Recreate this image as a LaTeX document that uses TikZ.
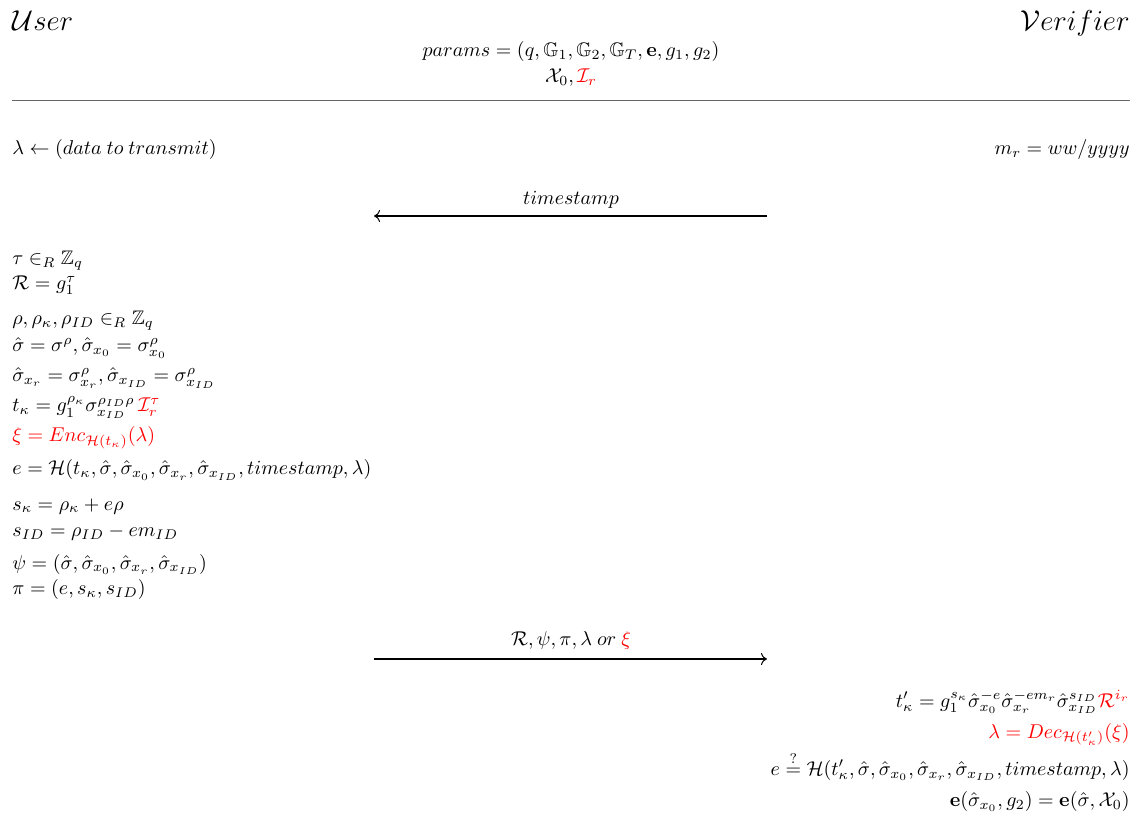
\documentclass[tikz,border=0pt]{standalone}
\usepackage{amsmath,amssymb}
\usepackage[no-math]{fontspec}
\setmainfont{Liberation Serif}
\usetikzlibrary{arrows.meta}
\tikzset{
  lft/.style={anchor=base west, inner sep=0pt, font=\fontsize{9.8}{11}\selectfont},
  rgt/.style={anchor=base east, inner sep=0pt, font=\fontsize{9.8}{11}\selectfont},
  ctr/.style={anchor=base, inner sep=0pt, font=\fontsize{9.8}{11}\selectfont},
  party/.style={inner sep=0pt, font=\fontsize{14.5}{16}\selectfont},
  msg/.style={line width=0.9pt, -{To[length=3pt,width=6pt,line width=0.5pt]}},
  rule/.style={line width=0.5pt, draw=black!60}
}
\begin{document}
\begin{tikzpicture}[x=0.5pt,y=-0.5pt]
\useasboundingbox (0,0) rectangle (1141,839);
% header
\node[party, anchor=base west] (user) at (12,31) {$\mathcal{U}ser$};
\node[party, anchor=base east] (ver) at (1130,31) {$\mathcal{V}erifier$};
\node[ctr] (params) at (571,57) {$params=(q,\mathbb{G}_1,\mathbb{G}_2,\mathbb{G}_T,\mathbf{e},g_1,g_2)$};
\node[ctr] (pk) at (571,83) {$\mathcal{X}_0,\textcolor{red}{\mathcal{I}_r}$};
\coordinate (ra) at (12,101);
\coordinate (rb) at (1130,101);
\draw[rule] (ra) -- (rb);
% first row
\node[lft] (lam) at (12,155) {$\lambda\leftarrow(data\ to\ transmit)$};
\node[rgt] (mr) at (1130,155) {$m_r=ww/yyyy$};
% timestamp message
\coordinate (m1a) at (767,216);
\coordinate (m1b) at (374,216);
\draw[msg] (m1a) -- (m1b);
\node[ctr] (ts) at (571,205) {$timestamp$};
% user computations
\node[lft] (u1) at (12,265) {$\tau\in_R\mathbb{Z}_q$};
\node[lft] (u2) at (12,290) {$\mathcal{R}=g_1^{\tau}$};
\node[lft] (u3) at (12,325) {$\rho,\rho_\kappa,\rho_{ID}\in_R\mathbb{Z}_q$};
\node[lft] (u4) at (12,352) {$\hat\sigma=\sigma^{\rho},\hat\sigma_{x_0}=\sigma_{x_0}^{\rho}$};
\node[lft] (u5) at (12,382) {$\hat\sigma_{x_r}=\sigma_{x_r}^{\rho},\hat\sigma_{x_{ID}}=\sigma_{x_{ID}}^{\rho}$};
\node[lft] (u6) at (12,412) {$t_\kappa=g_1^{\rho_\kappa}\sigma_{x_{ID}}^{\rho_{ID}\rho}\,\textcolor{red}{\mathcal{I}_r^{\tau}}$};
\node[lft, text=red] (u7) at (12,442) {$\xi=Enc_{\mathcal{H}(t_\kappa)}(\lambda)$};
\node[lft] (u8) at (12,475) {$e=\mathcal{H}(t_\kappa,\hat\sigma,\hat\sigma_{x_0},\hat\sigma_{x_r},\hat\sigma_{x_{ID}},timestamp,\lambda)$};
\node[lft] (u9) at (12,510) {$s_\kappa=\rho_\kappa+e\rho$};
\node[lft] (u10) at (12,537) {$s_{ID}=\rho_{ID}-em_{ID}$};
\node[lft] (u11) at (12,569) {$\psi=(\hat\sigma,\hat\sigma_{x_0},\hat\sigma_{x_r},\hat\sigma_{x_{ID}})$};
\node[lft] (u12) at (12,595) {$\pi=(e,s_\kappa,s_{ID})$};
% second message
\coordinate (m2a) at (374,659);
\coordinate (m2b) at (767,659);
\draw[msg] (m2a) -- (m2b);
\node[ctr] (m2) at (571,645) {$\mathcal{R},\psi,\pi,\lambda\ or\ \textcolor{red}{\xi}$};
% verifier computations
\node[rgt] (v1) at (1130,707) {$t'_\kappa=g_1^{s_\kappa}\hat\sigma_{x_0}^{-e}\hat\sigma_{x_r}^{-em_r}\hat\sigma_{x_{ID}}^{s_{ID}}\textcolor{red}{\mathcal{R}^{i_r}}$};
\node[rgt, text=red] (v2) at (1130,738) {$\lambda=Dec_{\mathcal{H}(t'_\kappa)}(\xi)$};
\node[rgt] (v3) at (1130,775) {$e\stackrel{?}{=}\mathcal{H}(t'_\kappa,\hat\sigma,\hat\sigma_{x_0},\hat\sigma_{x_r},\hat\sigma_{x_{ID}},timestamp,\lambda)$};
\node[rgt] (v4) at (1130,806) {$\mathbf{e}(\hat\sigma_{x_0},g_2)=\mathbf{e}(\hat\sigma,\mathcal{X}_0)$};
\end{tikzpicture}
\end{document}
